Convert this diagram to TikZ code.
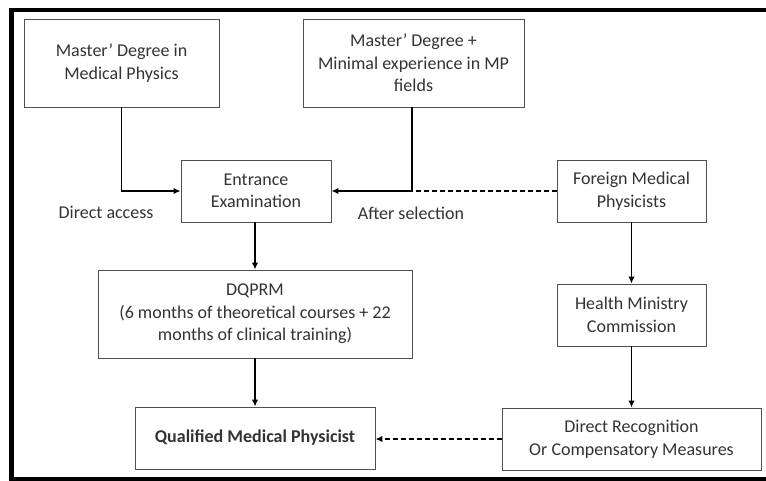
\documentclass[tikz,border=0pt]{standalone}
\usepackage{fontspec}
\setmainfont{Carlito}
\usetikzlibrary{arrows.meta}
\definecolor{txt}{HTML}{333333}
\definecolor{edge}{HTML}{505050}
\begin{document}
\begin{tikzpicture}[x=1pt,y=-1pt,
  box/.style={draw=edge,line width=0.9pt,fill=white,align=center,text=txt,
    font=\fontsize{18}{22.5}\selectfont,inner sep=0pt},
  conn/.style={line width=1.5pt,-{Latex[length=7pt,width=6.5pt]}},
  dconn/.style={line width=1.5pt,dash pattern=on 5pt off 3pt},
  lbl/.style={text=txt,font=\fontsize{18}{22.5}\selectfont,inner sep=0pt}]
\useasboundingbox (0,0) rectangle (766,481);
\begin{scope}
\clip (0,0) rectangle (766,481);
\draw[line width=4.5pt] (11.5,800) -- (11.5,10) -- (900,10);
\draw[line width=4.5pt] (11.5,479.5) -- (900,479.5);
\end{scope}
\node[box,minimum width=195pt,minimum height=88pt] (m1) at (121.5,63) {Master’ Degree in\\Medical Physics};
\node[box,minimum width=221pt,minimum height=88pt] (m2) at (413.5,63) {Master’ Degree +\\Minimal experience in MP\\fields};
\node[box,minimum width=150pt,minimum height=62pt] (ent) at (256,191) {Entrance\\Examination};
\node[box,minimum width=149pt,minimum height=62pt] (for) at (631.5,191) {Foreign Medical\\Physicists};
\node[box,minimum width=314pt,minimum height=88pt] (dq) at (255,314) {DQPRM\\(6 months of theoretical courses + 22\\months of clinical training)};
\node[box,minimum width=149pt,minimum height=62pt] (hm) at (631.5,315) {Health Ministry\\Commission};
\node[box,minimum width=240pt,minimum height=62pt,font=\fontsize{18}{22.5}\selectfont\bfseries] (qmp) at (255,438) {Qualified Medical Physicist};
\node[box,minimum width=259pt,minimum height=62pt] (dr) at (631.5,439) {Direct Recognition\\Or Compensatory Measures};
\node[lbl] (la) at (106,212) {Direct access};
\node[lbl] (lb) at (411,213) {After selection};
\coordinate (j) at (412,191);
\draw[conn] (m1.south) |- (ent.west);
\draw[conn] (m2.south -| j) |- (ent.east);
\draw[dconn] (for.west) -- (j);
\draw[conn] (ent.south -| dq.north) -- (dq.north);
\draw[conn] (dq.south) -- (qmp.north);
\draw[conn] (for.south) -- (hm.north);
\draw[conn] (hm.south) -- (dr.north);
\draw[conn,dconn] (dr.west) -- (dr.west -| qmp.east);
\end{tikzpicture}
\end{document}
